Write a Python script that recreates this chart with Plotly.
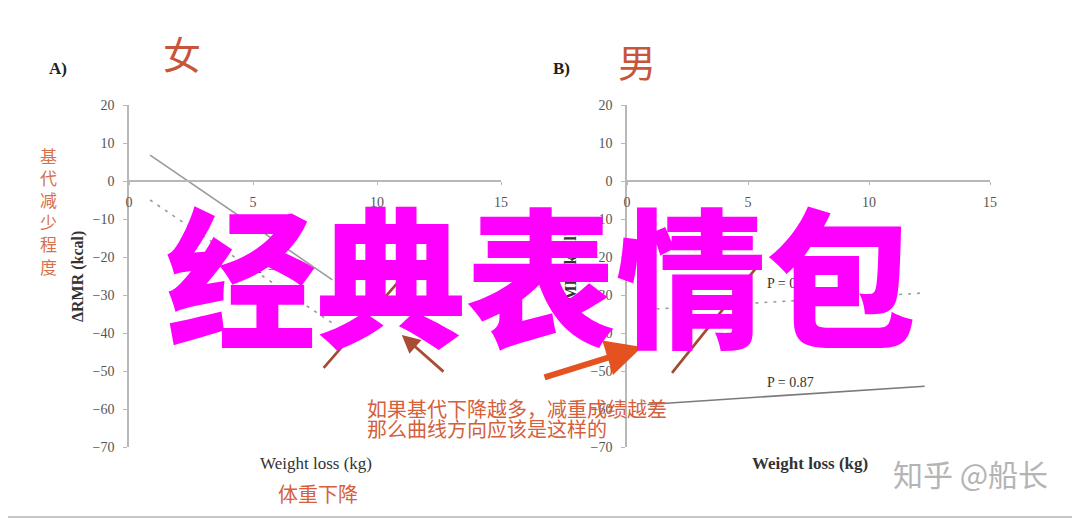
import plotly.graph_objects as go

# The page body has an 8px default margin, so the figure is drawn 8px in from the
# top-left corner of the 1080x519 window; size and coordinates compensate for it.
OX, OY = 8, 8
W, H = 1080 - OX, 519 - OY

# ---------------- data ----------------
x_ticks = [0, 5, 10, 15]
y_ticks = [20, 10, 0, -10, -20, -30, -40, -50, -60, -70]

# panel A (女)
a_solid_x = [0.85, 8.2]
a_solid_y = [6.8, -26.0]
a_dot_x = [0.85, 8.2]
a_dot_y = [-5.0, -37.4]
a_hand_x = [7.85, 10.85]
a_hand_y = [-49.2, -26.6]
a_arrow_head = [11.0, -40.5]
a_arrow_tail = [12.74, -50.5]
a_p_label = "P = 0."

# panel B (男)
b_dot_x = [0.85, 12.2]
b_dot_y = [-33.8, -29.5]
b_solid_x = [0.85, 12.3]
b_solid_y = [-58.8, -54.0]
b_hand_x = [1.86, 5.37]
b_hand_y = [-50.5, -22.6]
b_arrow_head = [0.62, -43.7]
b_arrow_tail = [-3.47, -51.8]
b_p_labels = ["P = 0.", "P = 0.87"]

note_lines = ["如果基代下降越多，减重成绩越差", "那么曲线方向应该是这样的"]
overlay_text = "经典表情包"

# ---------------- helpers (window pixels -> paper fractions) ----------------
def px(x):
    return (x - OX) / W

def py(y):
    return 1 - (y - OY) / H

SERIF = "Liberation Serif"
CJK = "Noto Sans CJK SC"
ORANGE = "#d4603c"
GREY = "#9a9a9a"
AXIS = "#b8b8b8"
HAND = "#a04a30"

fig = go.Figure()

# panel A traces
fig.add_trace(go.Scatter(x=a_solid_x, y=a_solid_y, mode="lines",
                         line=dict(color=GREY, width=1.6), xaxis="x", yaxis="y"))
fig.add_trace(go.Scatter(x=a_dot_x, y=a_dot_y, mode="lines",
                         line=dict(color=GREY, width=1.6, dash="3px,6px"), xaxis="x", yaxis="y"))
fig.add_trace(go.Scatter(x=a_hand_x, y=a_hand_y, mode="lines",
                         line=dict(color=HAND, width=2.6), xaxis="x", yaxis="y"))

# panel B traces
fig.add_trace(go.Scatter(x=b_dot_x, y=b_dot_y, mode="lines",
                         line=dict(color=GREY, width=1.6, dash="3px,6px"), xaxis="x2", yaxis="y2"))
fig.add_trace(go.Scatter(x=b_solid_x, y=b_solid_y, mode="lines",
                         line=dict(color="#7a7a7a", width=1.6), xaxis="x2", yaxis="y2"))
fig.add_trace(go.Scatter(x=b_hand_x, y=b_hand_y, mode="lines",
                         line=dict(color=HAND, width=2.6), xaxis="x2", yaxis="y2"))

ydom = [py(447), py(105)]
xpos = py(181)

xaxis_common = dict(range=[0, 15], tickvals=x_ticks, anchor="free", position=xpos,
                    showline=True, linecolor=AXIS, linewidth=2, ticks="outside",
                    ticklen=3, tickcolor=AXIS, showgrid=False, zeroline=False,
                    tickfont=dict(family=SERIF, size=14, color="#555"),
                    ticklabelstandoff=5, fixedrange=True, automargin=False)
yaxis_common = dict(range=[-70, 20], tickvals=y_ticks, domain=ydom,
                    showline=True, linecolor=AXIS, linewidth=1.5, ticks="outside",
                    ticklen=4, tickcolor=AXIS, showgrid=False, zeroline=False,
                    tickfont=dict(family=SERIF, size=14, color="#555"),
                    ticklabelstandoff=6, fixedrange=True, automargin=False)

fig.update_layout(
    width=W, height=H,
    margin=dict(l=0, r=0, t=0, b=0, autoexpand=False),
    paper_bgcolor="white", plot_bgcolor="white",
    showlegend=False,
    xaxis=dict(domain=[px(129), px(501)], **xaxis_common),
    yaxis=dict(anchor="x", **yaxis_common),
    xaxis2=dict(domain=[px(627), px(990)], **xaxis_common),
    yaxis2=dict(anchor="x2", **yaxis_common),
)

ann = []

def text(x, y, t, size, color, family=SERIF, xanchor="center", angle=0, weight="normal"):
    ann.append(dict(x=px(x), y=py(y), xref="paper", yref="paper", text=t,
                    showarrow=False, xanchor=xanchor, yanchor="middle", textangle=angle,
                    font=dict(family=family, size=size, color=color, weight=weight)))

# panel labels and titles
text(58, 68, "A)", 17, "#222", weight="bold")
text(561, 68, "B)", 17, "#222", weight="bold")
text(182, 52, "女", 38, "#c8553a", family=CJK)
text(637, 60, "男", 38, "#c8553a", family=CJK)

# y-axis titles
text(78, 277, "ΔRMR (kcal)", 16, "#333", angle=-90, weight="bold")
text(571, 277, "ΔRMR (kcal)", 16, "#333", angle=-90, weight="bold")
text(48, 211, "<br>".join(list("基代减少程度")), 17, "#d9704c", family=CJK)

# x-axis titles
text(316, 463, "Weight loss (kg)", 17, "#333")
text(810, 463, "Weight loss (kg)", 17, "#333", weight="bold")
text(318, 493, "体重下降", 20, ORANGE, family=CJK)

# P labels
text(255, 268, a_p_label, 14, "#333", xanchor="left")
text(765, 283, b_p_labels[0], 14, "#333", xanchor="left")
text(765, 382, b_p_labels[1], 14, "#333", xanchor="left")

# note text
text(365, 408, note_lines[0], 20, ORANGE, family=CJK, xanchor="left")
text(365, 428, note_lines[1], 20, ORANGE, family=CJK, xanchor="left")

# watermark
text(970, 473, "知乎 @船长", 30, "#b4b4b4", family=CJK)

# arrows
ann.append(dict(x=a_arrow_head[0], y=a_arrow_head[1], xref="x", yref="y",
                ax=a_arrow_tail[0], ay=a_arrow_tail[1], axref="x", ayref="y",
                text="", showarrow=True, arrowhead=2, arrowsize=1.3, arrowwidth=2.8,
                arrowcolor="#a84c33", standoff=0))
ann.append(dict(x=b_arrow_head[0], y=b_arrow_head[1], xref="x2", yref="y2",
                ax=b_arrow_tail[0], ay=b_arrow_tail[1], axref="x2", ayref="y2",
                text="", showarrow=True, arrowhead=2, arrowsize=1.2, arrowwidth=6,
                arrowcolor="#e4531f", standoff=0))

# big overlay text
text(541, 270, overlay_text, 150, "#ff00ff", family=CJK, weight=900)

fig.update_layout(annotations=ann)

# frame edges
fig.add_shape(type="line", xref="paper", yref="paper", x0=0, x1=1, y0=py(517), y1=py(517),
              line=dict(color="#c8c8c8", width=2))
fig.add_shape(type="line", xref="paper", yref="paper", x0=px(1074), x1=px(1074), y0=py(517), y1=1,
              line=dict(color="#e0e0e0", width=1))

fig.write_html("out.html")
